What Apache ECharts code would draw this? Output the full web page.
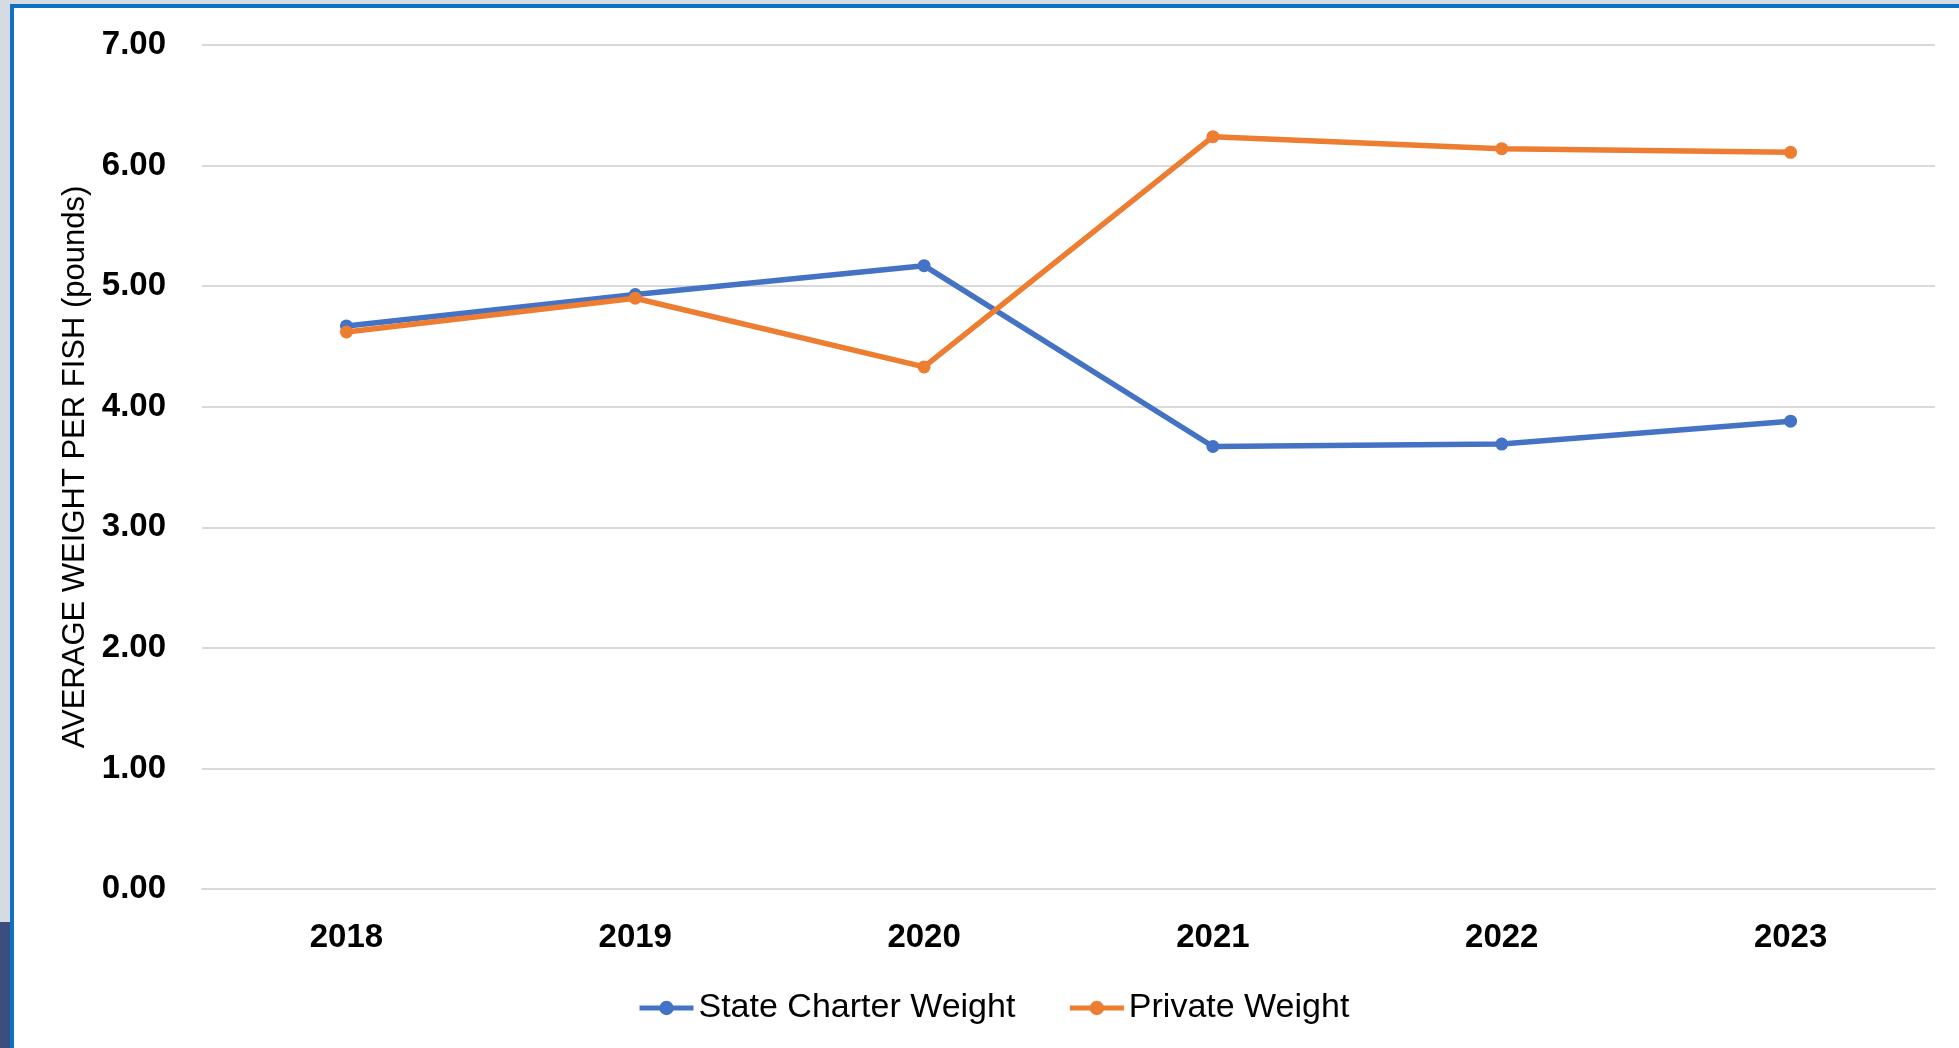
<!DOCTYPE html>
<html>
<head>
<meta charset="utf-8">
<script src="https://cdn.jsdelivr.net/npm/echarts@6/dist/echarts.min.js"></script>
<style>
  html, body { margin: 0; padding: 0; width: 1959px; height: 1048px; overflow: hidden; background: #d5dbe3; }
  #frame { position: absolute; left: 10px; top: 4px; width: 1949px; height: 1044px; background: #ffffff;
           border-top: 4px solid #1170c2; border-left: 4px solid #1170c2; box-sizing: border-box; }
  #dark { position: absolute; left: 0; top: 922px; width: 10px; height: 126px; background: #3b4f7f; }
  #chart { position: absolute; left: 0; top: 0; width: 1959px; height: 1048px; }
</style>
</head>
<body>
<div id="frame"></div>
<div id="dark"></div>
<div id="chart"></div>
<script>
const years = ['2018', '2019', '2020', '2021', '2022', '2023'];
const stateCharterWeight = [4.67, 4.93, 5.17, 3.67, 3.69, 3.88];
const privateWeight = [4.62, 4.90, 4.33, 6.24, 6.14, 6.11];
const yAxisTitle = 'AVERAGE WEIGHT PER FISH (pounds)';

const font = 'Liberation Sans, Arial, sans-serif';
const chart = echarts.init(document.getElementById('chart'), null, { renderer: 'canvas' });
chart.setOption({
  backgroundColor: 'transparent',
  animation: false,
  grid: { left: 202, right: 24, top: 45, bottom: 159, containLabel: false },
  legend: {
    left: 637, top: 991, padding: 0,
    itemWidth: 54, itemHeight: 18, itemGap: 52,
    lineStyle: { width: 5 },
    textStyle: { fontFamily: font, fontSize: 34, color: '#000000' },
    data: ['State Charter Weight', 'Private Weight']
  },
  xAxis: {
    type: 'category',
    data: years,
    boundaryGap: true,
    axisLine: { show: true, lineStyle: { color: '#d9d9d9', width: 2 } },
    axisTick: { show: false },
    axisLabel: { margin: 32, fontFamily: font, fontSize: 33, fontWeight: 'bold', color: '#000000' }
  },
  yAxis: {
    type: 'value',
    min: 0, max: 7, interval: 1,
    name: yAxisTitle,
    nameLocation: 'middle',
    nameGap: 111,
    nameTextStyle: { fontFamily: font, fontSize: 31, color: '#000000' },
    axisLine: { show: false },
    axisTick: { show: false },
    splitLine: { show: true, lineStyle: { color: '#d9d9d9', width: 2 } },
    axisLabel: {
      margin: 36, fontFamily: font, fontSize: 33, fontWeight: 'bold', color: '#000000',
      formatter: v => v.toFixed(2)
    }
  },
  series: [
    {
      name: 'State Charter Weight', type: 'line', data: stateCharterWeight,
      symbol: 'circle', symbolSize: 13,
      lineStyle: { color: '#4472c4', width: 5.5 },
      itemStyle: { color: '#4472c4' }
    },
    {
      name: 'Private Weight', type: 'line', data: privateWeight,
      symbol: 'circle', symbolSize: 13,
      lineStyle: { color: '#ed7d31', width: 5.5 },
      itemStyle: { color: '#ed7d31' }
    }
  ]
});
</script>
</body>
</html>
